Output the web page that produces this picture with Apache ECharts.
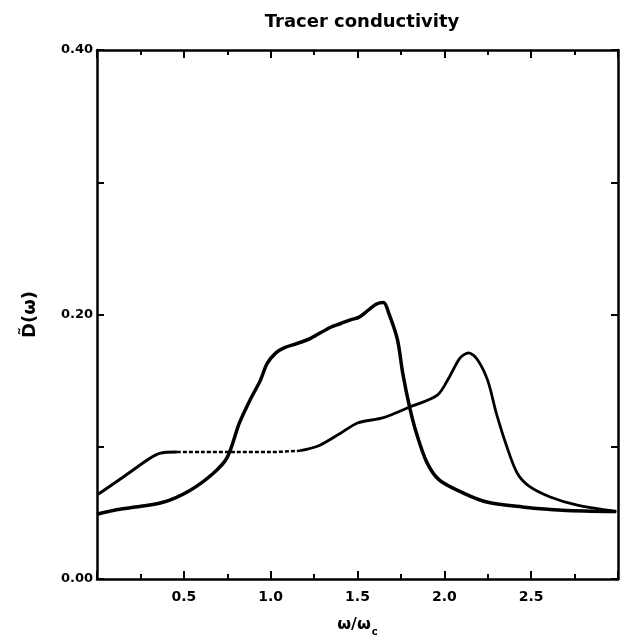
<!DOCTYPE html>
<html><head><meta charset="utf-8">
<script src="https://cdn.jsdelivr.net/npm/echarts@6/dist/echarts.min.js"></script>
<style>html,body{margin:0;padding:0;background:#fff}#c{width:622px;height:642px}</style>
</head><body><div id="c"></div>
<script>
// Curve A: thick curve peaking near 1.65
const curveA_x = [0.00,0.10,0.20,0.38,0.535,0.67,0.75,0.82,0.88,0.94,0.98,1.03,1.08,1.15,1.23,1.34,1.40,1.46,1.51,1.55,1.61,1.65,1.68,1.73,1.76,1.80,1.84,1.90,1.97,2.11,2.25,2.45,2.68,2.99];
const curveA_y = [0.049,0.052,0.054,0.058,0.067,0.080,0.092,0.118,0.135,0.150,0.163,0.171,0.175,0.178,0.182,0.190,0.193,0.196,0.198,0.202,0.208,0.209,0.201,0.181,0.156,0.130,0.110,0.088,0.075,0.065,0.058,0.0545,0.052,0.051];
// Curve B: thinner curve peaking near 2.15
const curveB1_x = [0.00,0.017,0.15,0.29,0.36,0.46];
const curveB1_y = [0.064,0.065,0.077,0.090,0.095,0.096];
const curveB2_x = [0.46,0.60,0.80,1.00,1.17];
const curveB2_y = [0.096,0.096,0.096,0.096,0.097];
const curveB3_x = [1.17,1.28,1.40,1.50,1.65,1.80,1.96,2.03,2.09,2.14,2.19,2.25,2.30,2.36,2.42,2.49,2.61,2.76,2.99];
const curveB3_y = [0.097,0.101,0.110,0.118,0.122,0.130,0.139,0.153,0.167,0.171,0.166,0.150,0.125,0.100,0.080,0.070,0.062,0.056,0.051];
const xTicks = ['0.5','1.0','1.5','2.0','2.5'];
const yTicks = ['0.00','0.20','0.40'];

const zip = (xs, ys) => xs.map((x, i) => [x, ys[i]]);
const font = 'DejaVu Sans';
const chart = echarts.init(document.getElementById('c'), null, {renderer: 'canvas'});
const mkLine = () => ({show: true, onZero: false, lineStyle: {color: '#000', width: 2.5}});
const mkTick = (len) => ({show: true, inside: true, length: len, lineStyle: {color: '#000', width: 2}});
const mkMinor = () => ({show: true, splitNumber: 2, length: 5, lineStyle: {color: '#000', width: 2}});
chart.setOption({
  animation: false,
  backgroundColor: '#fff',
  title: {text: 'Tracer conductivity', left: 357, top: 8, textAlign: 'center',
    textStyle: {fontFamily: font, fontWeight: 'bold', fontSize: 18, color: '#000'}},
  grid: {left: 97, right: 4, top: 50, bottom: 63},
  xAxis: [{
    type: 'value', min: 0, max: 3.0, interval: 0.5, position: 'bottom',
    axisLine: mkLine(), splitLine: {show: false},
    axisTick: mkTick(8), minorTick: mkMinor(),
    axisLabel: {color: '#000', fontFamily: font, fontWeight: 'bold', fontSize: 14, margin: 11,
      formatter: v => { const s = v.toFixed(1); return xTicks.includes(s) ? s : ''; }},
    name: '{a|ω/ω}{s|c}', nameLocation: 'middle', nameGap: 34,
    nameTextStyle: {rich: {a: {fontFamily: font, fontWeight: 'bold', fontSize: 16, color: '#000'},
      s: {fontFamily: font, fontWeight: 'bold', fontSize: 10, color: '#000', padding: [14, 0, 0, 1]}}}
  }, {
    type: 'value', min: 0, max: 3.0, interval: 0.5, position: 'top',
    axisLine: mkLine(), splitLine: {show: false}, axisLabel: {show: false},
    axisTick: mkTick(8), minorTick: mkMinor()
  }],
  yAxis: [{
    type: 'value', min: 0, max: 0.4, interval: 0.1, position: 'left',
    axisLine: mkLine(), splitLine: {show: false},
    axisTick: mkTick(7),
    axisLabel: {color: '#000', fontFamily: font, fontWeight: 'bold', fontSize: 13, margin: 4,
      formatter: v => { const s = v.toFixed(2); return yTicks.includes(s) ? s : ''; }},
    name: 'D\u0303(ω)', nameLocation: 'middle', nameGap: 58, nameRotate: 90,
    nameTextStyle: {fontFamily: font, fontWeight: 'bold', fontSize: 18, color: '#000'}
  }, {
    type: 'value', min: 0, max: 0.4, interval: 0.1, position: 'right',
    axisLine: mkLine(), splitLine: {show: false}, axisLabel: {show: false},
    axisTick: mkTick(7)
  }],
  series: [
    {type: 'line', data: zip(curveA_x, curveA_y), smooth: 0.3, symbol: 'none',
      lineStyle: {color: '#000', width: 3.5}},
    {type: 'line', data: zip(curveB1_x, curveB1_y), smooth: 0.3, symbol: 'none',
      lineStyle: {color: '#000', width: 3}},
    {type: 'line', data: zip(curveB2_x, curveB2_y), smooth: 0.3, symbol: 'none',
      lineStyle: {color: '#000', width: 2.5, type: [4, 2]}},
    {type: 'line', data: zip(curveB3_x, curveB3_y), smooth: 0.3, symbol: 'none',
      lineStyle: {color: '#000', width: 2.8}}
  ]
});
</script></body></html>
